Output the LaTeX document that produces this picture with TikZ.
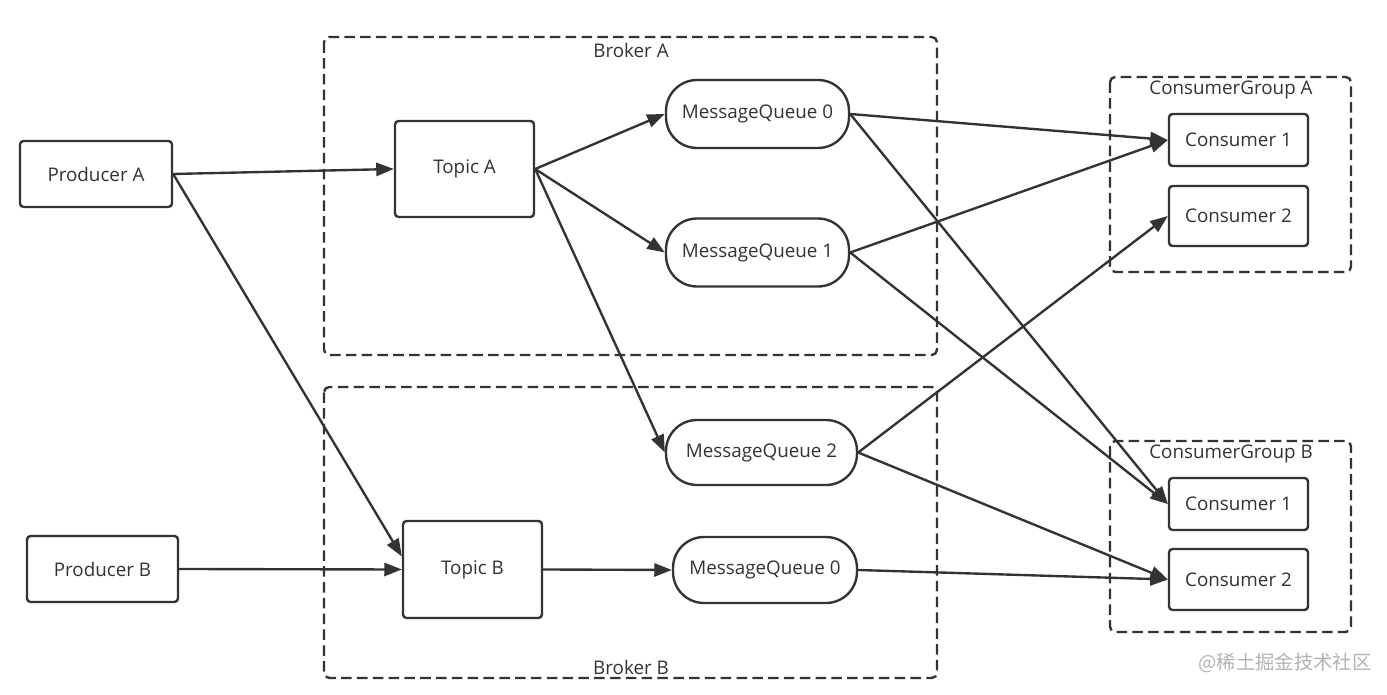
\documentclass[tikz,border=0pt]{standalone}
\usepackage{fontspec}
\setmainfont{Open Sans}
\newfontfamily\cjkfont{Noto Sans CJK SC}
\usetikzlibrary{positioning, arrows.meta}
\definecolor{ink}{HTML}{333333}

\begin{document}
\begin{tikzpicture}[x=0.02cm, y=-0.02cm, ink, line width=1.35pt, font=\fontsize{10.7}{12}\selectfont,
        box/.style = {draw, rounded corners=2pt, fill=white, minimum width=3.04cm, minimum height=1.32cm},
        small/.style = {box, minimum width=2.78cm},
        queue/.style = {draw, rounded corners=0.62cm, fill=white, minimum width=3.66cm, minimum height=1.36cm},
        group/.style = {draw, dash pattern=on 6pt off 3pt, rounded corners=3pt},
        arrow/.style = {-{Triangle[length=10pt, width=7.5pt]}}]
        \useasboundingbox (0,0) rectangle (1387,695);
        \draw[group] (324,37) rectangle (937,355);
        \draw[group] (324,387) rectangle (937,678);
        \draw[group] (1110,77) rectangle (1351,272);
        \draw[group] (1110,441) rectangle (1351,632);
        \node (ba) at (631,50) {Broker A};
        \node (bb) at (631,667) {Broker B};
        \node (ga) at (1231,90) {ConsumerGroup A};
        \node (gb) at (1231,454) {ConsumerGroup B};
        \node[box] (pa) at (96,174) {Producer A};
        \node[box, minimum width=3.02cm] (pb) at (102.5,569) {Producer B};
        \node[small, minimum height=1.92cm] (ta) at (464.5,169) {Topic A};
        \node[small, minimum height=1.94cm] (tb) at (472.5,569.5) {Topic B};
        \node[queue] (qa0) at (757.5,114) {MessageQueue 0};
        \node[queue] (qa1) at (757.5,252.5) {MessageQueue 1};
        \node[queue, minimum width=3.82cm, minimum height=1.3cm] (qa2) at (761.5,452.5) {MessageQueue 2};
        \node[queue, minimum width=3.68cm, minimum height=1.32cm] (qb0) at (765,570) {MessageQueue 0};
        \node[small, minimum height=1.04cm] (ca1) at (1238.5,140) {Consumer 1};
        \node[small, minimum height=1.2cm] (ca2) at (1238.5,216) {Consumer 2};
        \node[small, minimum height=1.04cm] (cb1) at (1238.5,504) {Consumer 1};
        \node[small, minimum height=1.22cm] (cb2) at (1238.5,579.5) {Consumer 2};
        \draw[arrow] (pa.east) -- (ta.west);
        \draw[arrow] (pa.east) -- ([yshift=0.26cm]tb.west);
        \draw[arrow] (pb.east) -- (tb.west);
        \draw[arrow] (ta.east) -- (qa0.west);
        \draw[arrow] (ta.east) -- (qa1.west);
        \draw[arrow] (ta.east) -- (qa2.west);
        \draw[arrow] (tb.east) -- (qb0.west);
        \draw[arrow] (qa0.east) -- (ca1.west);
        \draw[arrow] (qa0.east) -- (cb1.west);
        \draw[arrow] (qa1.east) -- (ca1.west);
        \draw[arrow] (qa1.east) -- (cb1.west);
        \draw[arrow] (qa2.east) -- (ca2.west);
        \draw[arrow] (qa2.east) -- (cb2.west);
        \draw[arrow] (qb0.east) -- (cb2.west);
        \node[text=gray!60, font=\cjkfont\fontsize{11}{13}\selectfont] (wm) at (1285,663) {@稀土掘金技术社区};
    \end{tikzpicture}
\end{document}
